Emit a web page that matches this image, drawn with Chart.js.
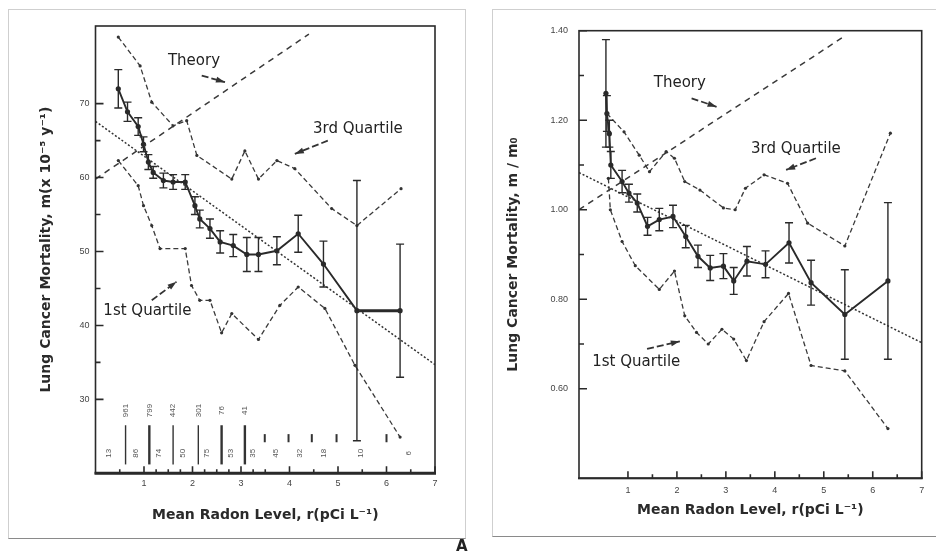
<!DOCTYPE html>
<html><head><meta charset="utf-8">
<script src="https://cdn.jsdelivr.net/npm/chart.js@4.4.1/dist/chart.umd.min.js"></script>
<style>
html,body{margin:0;padding:0;background:#fff;}
#wrap{position:relative;width:936px;height:553px;overflow:hidden;background:#fff;}
.frame{position:absolute;border:1.5px solid #cfcfcf;border-bottom-color:#8a8a8a;box-sizing:border-box;}
#c1{position:absolute;left:0;top:0;width:470px;height:553px;}
#c2{position:absolute;left:470px;top:0;width:466px;height:553px;}
#panelA{position:absolute;left:456px;top:537px;font:bold 15px "DejaVu Sans";color:#222;}
</style></head><body>
<div id="wrap">
<div class="frame" style="left:8px;top:9px;width:458px;height:530px;"></div>
<div class="frame" style="left:492px;top:9px;width:452px;height:528px;"></div>
<canvas id="c1" width="470" height="553"></canvas>
<canvas id="c2" width="466" height="553"></canvas>
<div id="panelA">A</div>
</div>
<script>
// ---------- Left panel: lung cancer mortality m (x10^-5 y^-1) ----------
const leftRadon = [0.47,0.66,0.88,0.99,1.09,1.19,1.40,1.60,1.85,2.05,2.15,2.36,2.57,2.84,3.12,3.36,3.74,4.18,4.70,5.39,6.28];
const leftMort  = [72.0,68.9,66.9,64.5,62.1,60.7,59.6,59.4,59.4,56.2,54.4,53.1,51.3,50.8,49.6,49.6,50.1,52.4,48.3,42.0,42.0];
const leftErr   = [2.6,1.3,1.2,1.0,1.0,0.8,1.0,1.0,1.0,1.2,1.2,1.3,1.5,1.5,2.3,2.3,1.9,2.5,3.1,17.6,9.0];
const leftQ3X = [0.47,0.92,1.16,1.60,1.88,2.09,2.81,3.08,3.36,3.74,4.11,4.87,5.39,6.30];
const leftQ3Y = [79.0,75.1,70.2,67.0,67.7,63.0,59.8,63.6,59.8,62.3,61.2,55.8,53.5,58.5];
const leftQ1X = [0.47,0.88,0.99,1.16,1.33,1.85,1.98,2.15,2.36,2.60,2.81,3.36,3.80,4.18,4.73,5.35,6.28];
const leftQ1Y = [62.3,58.9,56.2,53.5,50.4,50.4,45.4,43.4,43.4,39.0,41.6,38.1,42.7,45.2,42.3,34.6,24.9];
const leftTheoryX = [0,4.4];
const leftTheoryY = [59.8,79.4];
const leftFitX = [0,7];
const leftFitY = [67.6,34.7];
const leftXTicks = [0.5,1,1.25,1.5,1.75,2,2.25,2.5,2.75,3,3.25,3.5,4,4.5,5,5.5,6,6.5,7];
const leftYTicks = [30,35,40,45,50,55,60,65,70];
// county counts per radon bin (bottom strip)
const binEdgeX = [0.62,1.11,1.60,2.12,2.60,3.08];
const binEdgeCounts = ['961','799','442','301','76','41'];
const binMidX = [0.28,0.83,1.30,1.81,2.29,2.79,3.25,3.72,4.22,4.71,5.46,6.45];
const binMidCounts = ['13','86','74','50','75','53','35','45','32','18','10','6'];
const binMarkX = [3.49,3.98,4.46,4.97,6.0];
const leftLabels = [
  {text:'Theory', x:2.03, y:75.7},
  {text:'3rd Quartile', x:5.41, y:66.6},
  {text:'1st Quartile', x:1.07, y:41.9}
];
const leftArrows = [
  {x1:2.19,y1:73.8,x2:2.67,y2:72.9},
  {x1:4.79,y1:65.0,x2:4.11,y2:63.2},
  {x1:1.16,y1:43.4,x2:1.67,y2:45.9}
];

// ---------- Right panel: ratio m / m0 ----------
const rightRadon = [0.55,0.57,0.62,0.65,0.88,1.02,1.19,1.40,1.64,1.92,2.18,2.43,2.68,2.95,3.16,3.43,3.81,4.29,4.74,5.43,6.31];
const rightRatio = [1.26,1.215,1.17,1.10,1.063,1.037,1.015,0.963,0.978,0.985,0.94,0.896,0.870,0.874,0.841,0.885,0.878,0.926,0.837,0.766,0.841];
const rightErr   = [0.12,0.04,0.03,0.03,0.025,0.02,0.02,0.02,0.025,0.025,0.025,0.025,0.028,0.028,0.03,0.033,0.03,0.045,0.05,0.10,0.175];
const rightQ3X = [0.57,0.92,1.23,1.44,1.78,1.95,2.16,2.47,2.95,3.19,3.40,3.78,4.26,4.67,5.43,6.36];
const rightQ3Y = [1.215,1.174,1.122,1.085,1.130,1.115,1.063,1.044,1.004,1.000,1.048,1.078,1.059,0.970,0.919,1.171];
const rightQ1X = [0.60,0.64,0.88,1.15,1.64,1.95,2.16,2.40,2.64,2.92,3.16,3.42,3.78,4.28,4.74,5.43,6.31];
const rightQ1Y = [1.07,1.00,0.929,0.875,0.822,0.863,0.763,0.726,0.700,0.733,0.711,0.663,0.750,0.813,0.652,0.640,0.511];
const rightTheoryX = [0,5.4];
const rightTheoryY = [1.0,1.386];
const rightFitX = [0,7];
const rightFitY = [1.083,0.703];
const rightXTicks = [1,1.5,2,2.5,3,3.5,4,4.5,5,5.5,6,6.5,7];
const rightYTicks = [0.6,0.7,0.8,0.9,1.0,1.1,1.2,1.3,1.4];
const rightLabels = [
  {text:'Theory', x:2.06, y:1.284},
  {text:'3rd Quartile', x:4.43, y:1.135},
  {text:'1st Quartile', x:1.17, y:0.659}
];
const rightArrows = [
  {x1:2.30,y1:1.249,x2:2.81,y2:1.230},
  {x1:4.84,y1:1.115,x2:4.23,y2:1.089},
  {x1:1.39,y1:0.689,x2:2.06,y2:0.706}
];

const INK = '#2a2a2a';
const pts = (xs, ys) => xs.map((x,i)=>({x, y:ys[i]}));

const frameTicks = {
  id:'frameTicks',
  afterDatasetsDraw(chart, args, o){
    const {ctx, chartArea:a, scales:{x,y}} = chart;
    ctx.save();
    ctx.strokeStyle = INK;
    ctx.lineWidth = 1.6;
    ctx.strokeRect(a.left, a.top, a.right-a.left, a.bottom-a.top);
    ctx.lineWidth = o.bottomWidth;
    ctx.beginPath(); ctx.moveTo(a.left-1, a.bottom); ctx.lineTo(a.right+1, a.bottom); ctx.stroke();
    ctx.lineWidth = 1.6;
    ctx.beginPath();
    x.ticks.forEach(t=>{
      const px = x.getPixelForValue(t.value);
      const len = Number.isInteger(t.value) ? 7 : 4;
      ctx.moveTo(px, a.bottom); ctx.lineTo(px, a.bottom-len);
    });
    y.ticks.forEach(t=>{
      const py = y.getPixelForValue(t.value);
      const len = o.isMajorY(t.value) ? 8 : 5;
      ctx.moveTo(a.left, py); ctx.lineTo(a.left+len, py);
    });
    ctx.stroke();
    ctx.restore();
  }
};

const errorBars = {
  id:'errorBars',
  afterDatasetsDraw(chart, args, o){
    const ds = chart.data.datasets[o.index];
    const meta = chart.getDatasetMeta(o.index);
    const y = chart.scales.y, ctx = chart.ctx;
    ctx.save();
    ctx.strokeStyle = INK; ctx.lineWidth = 1.4;
    meta.data.forEach((el,i)=>{
      const v = ds.data[i].y, e = o.errors[i];
      const t = y.getPixelForValue(v+e), b = y.getPixelForValue(v-e);
      ctx.beginPath();
      ctx.moveTo(el.x, t); ctx.lineTo(el.x, b);
      ctx.moveTo(el.x-4, t); ctx.lineTo(el.x+4, t);
      ctx.moveTo(el.x-4, b); ctx.lineTo(el.x+4, b);
      ctx.stroke();
    });
    ctx.restore();
  }
};

const notes = {
  id:'notes',
  afterDatasetsDraw(chart, args, o){
    const {ctx, scales:{x,y}} = chart;
    ctx.save();
    ctx.fillStyle = '#222';
    ctx.font = '15px "DejaVu Sans"';
    ctx.textAlign = 'center'; ctx.textBaseline = 'middle';
    o.labels.forEach(l=>ctx.fillText(l.text, x.getPixelForValue(l.x), y.getPixelForValue(l.y)));
    ctx.strokeStyle = '#333'; ctx.lineWidth = 1.8; ctx.setLineDash([7,3]);
    o.arrows.forEach(a=>{
      const x1=x.getPixelForValue(a.x1), y1=y.getPixelForValue(a.y1);
      const x2=x.getPixelForValue(a.x2), y2=y.getPixelForValue(a.y2);
      ctx.beginPath(); ctx.moveTo(x1,y1); ctx.lineTo(x2,y2); ctx.stroke();
      const ang = Math.atan2(y2-y1, x2-x1);
      ctx.beginPath();
      ctx.moveTo(x2,y2);
      ctx.lineTo(x2-9*Math.cos(ang)+3*Math.sin(ang), y2-9*Math.sin(ang)-3*Math.cos(ang));
      ctx.lineTo(x2-9*Math.cos(ang)-3*Math.sin(ang), y2-9*Math.sin(ang)+3*Math.cos(ang));
      ctx.closePath(); ctx.fillStyle='#333'; ctx.fill();
    });
    ctx.restore();
  }
};

const binCounts = {
  id:'binCounts',
  afterDatasetsDraw(chart){
    const {ctx, scales:{x,y}} = chart;
    ctx.save();
    ctx.strokeStyle = '#333'; ctx.fillStyle = '#555';
    ctx.font = '8px "Liberation Sans"';
    ctx.textAlign = 'center'; ctx.textBaseline = 'middle';
    const rot = (txt, px, py) => { ctx.save(); ctx.translate(px,py); ctx.rotate(-Math.PI/2); ctx.fillText(txt,0,0); ctx.restore(); };
    binEdgeX.forEach((v,i)=>{
      const px = x.getPixelForValue(v);
      ctx.lineWidth = (i===1||i>=4) ? 2.4 : 1.4;
      ctx.beginPath(); ctx.moveTo(px, y.getPixelForValue(26.5)); ctx.lineTo(px, y.getPixelForValue(21.2)); ctx.stroke();
      rot(binEdgeCounts[i], px, y.getPixelForValue(28.5));
    });
    binMidX.forEach((v,i)=>rot(binMidCounts[i], x.getPixelForValue(v), y.getPixelForValue(22.7)));
    ctx.lineWidth = 2;
    binMarkX.forEach(v=>{
      const px = x.getPixelForValue(v);
      ctx.beginPath(); ctx.moveTo(px, y.getPixelForValue(25.3)); ctx.lineTo(px, y.getPixelForValue(24.2)); ctx.stroke();
    });
    ctx.restore();
  }
};

function build(canvas, p){
  const datasets = [
    {data:pts(p.theoryX,p.theoryY), showLine:true, borderColor:'#3a3a3a', borderWidth:1.5, borderDash:[6,5], pointRadius:0},
    {data:pts(p.fitX,p.fitY), showLine:true, borderColor:'#333', borderWidth:1.5, borderDash:[2,2], pointRadius:0},
    {data:pts(p.q1X,p.q1Y), showLine:true, borderColor:'#3a3a3a', borderWidth:1.3, borderDash:[5,3], pointRadius:1.6, pointBackgroundColor:'#333', pointBorderWidth:0},
    {data:pts(p.q3X,p.q3Y), showLine:true, borderColor:'#3a3a3a', borderWidth:1.3, borderDash:[5,3], pointRadius:1.6, pointBackgroundColor:'#333', pointBorderWidth:0},
    {data:pts(p.mainX,p.mainY), showLine:true, borderColor:INK, borderWidth:1.9, pointRadius:2.6, pointBackgroundColor:INK, pointBorderWidth:0,
     segment:{borderWidth: c => (p.thickLast && c.p0DataIndex === p.mainX.length-2) ? 3 : 1.9}}
  ];
  const plugins = [errorBars, frameTicks, notes];
  if (p.counts) plugins.push(binCounts);
  return new Chart(canvas, {
    type:'scatter',
    data:{datasets},
    plugins,
    options:{
      responsive:false, animation:false, devicePixelRatio:1,
      layout:{padding:{left:0, top:p.top, right:p.right, bottom:0}},
      plugins:{
        legend:{display:false}, tooltip:{enabled:false},
        errorBars:{index:4, errors:p.err},
        frameTicks:{isMajorY:p.isMajorY, bottomWidth:p.bottomWidth},
        notes:{labels:p.labels, arrows:p.arrows}
      },
      scales:{
        x:{type:'linear', min:0, max:7,
          afterFit(s){ s.height = p.xH; },
          afterBuildTicks(s){ s.ticks = p.xTicks.map(v=>({value:v})); },
          grid:{display:false, drawTicks:false}, border:{display:false},
          ticks:{autoSkip:false, maxRotation:0, padding:p.xPad, color:'#444', font:{family:'Liberation Sans', size:9},
                 callback:v => Number.isInteger(v) ? String(v) : ''},
          title:{display:true, text:'Mean Radon Level, r(pCi L\u207B\u00B9)', color:'#2a2a2a',
                 font:{family:'DejaVu Sans', size:14, weight:'bold'}, padding:{top:0, bottom:p.xTitlePad}}
        },
        y:{type:'linear', min:p.yMin, max:p.yMax,
          afterFit(s){ s.width = p.yW; },
          afterBuildTicks(s){ s.ticks = p.yTicks.map(v=>({value:v})); },
          grid:{display:false, drawTicks:false}, border:{display:false},
          ticks:{autoSkip:false, padding:p.yPad, color:'#444', font:{family:'Liberation Sans', size:9},
                 callback:v => p.isMajorY(v) ? p.fmt(v) : ''},
          title:{display:true, text:p.yTitle, color:'#2a2a2a',
                 font:{family:'DejaVu Sans', size:14, weight:'bold'}, padding:{top:p.yTitlePad, bottom:0}}
        }
      }
    }
  });
}

build(document.getElementById('c1'), {
  mainX:leftRadon, mainY:leftMort, err:leftErr, thickLast:true,
  q1X:leftQ1X, q1Y:leftQ1Y, q3X:leftQ3X, q3Y:leftQ3Y,
  theoryX:leftTheoryX, theoryY:leftTheoryY, fitX:leftFitX, fitY:leftFitY,
  xTicks:leftXTicks, yTicks:leftYTicks, yMin:20, yMax:80.5,
  isMajorY:v => v % 10 === 0, fmt:v => String(v),
  labels:leftLabels, arrows:leftArrows, counts:true,
  top:26, right:35, xH:79.7, yW:95.5, xPad:5, yPad:6, xTitlePad:29.6, yTitlePad:38.3,
  bottomWidth:3, yTitle:'Lung Cancer Mortality, m(x 10\u207B\u2075 y\u207B\u00B9)'
});

build(document.getElementById('c2'), {
  mainX:rightRadon, mainY:rightRatio, err:rightErr, thickLast:false,
  q1X:rightQ1X, q1Y:rightQ1Y, q3X:rightQ3X, q3Y:rightQ3Y,
  theoryX:rightTheoryX, theoryY:rightTheoryY, fitX:rightFitX, fitY:rightFitY,
  xTicks:rightXTicks, yTicks:rightYTicks, yMin:0.40, yMax:1.40,
  isMajorY:v => Math.round(v*10) % 2 === 0, fmt:v => v.toFixed(2),
  labels:rightLabels, arrows:rightArrows, counts:false,
  top:30.7, right:14.3, xH:74.7, yW:109, xPad:7, yPad:11, xTitlePad:34.6, yTitlePad:34.6,
  bottomWidth:2, yTitle:'Lung Cancer Mortality, m / m\u2080'
});
</script>
</body></html>
